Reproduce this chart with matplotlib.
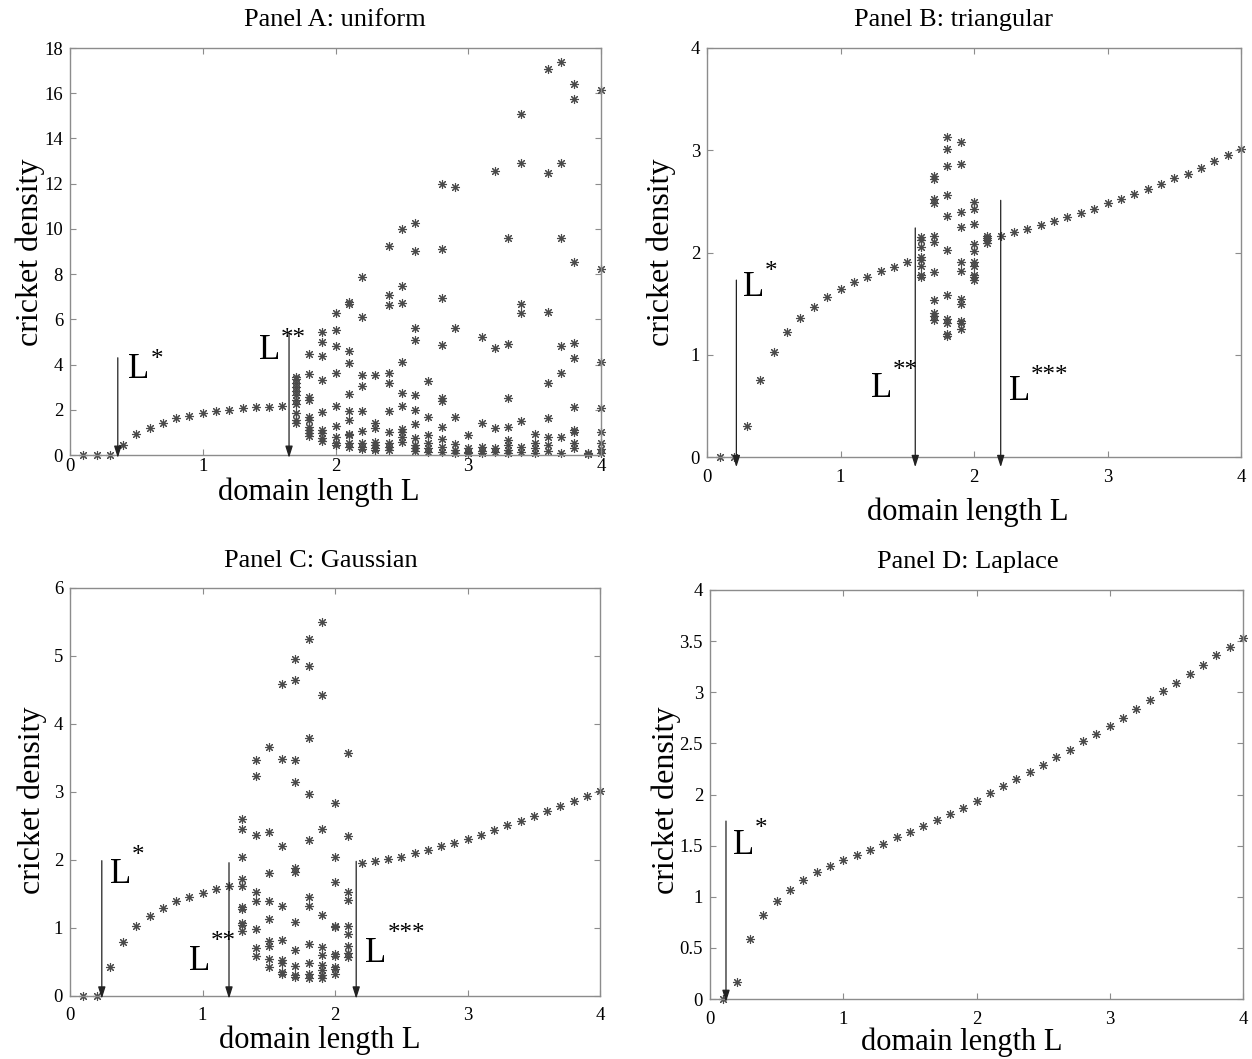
import matplotlib
matplotlib.use('Agg')
import matplotlib.pyplot as plt

plt.rcParams['font.family'] = ['Liberation Serif', 'DejaVu Serif']

W, H = 1252, 1059

# ---------------- data ----------------
# Panel A: uniform
a_branch_L = [0.1, 0.2, 0.3, 0.4, 0.5, 0.6, 0.7, 0.8, 0.9, 1.0, 1.1, 1.2, 1.3, 1.4, 1.5, 1.6]
a_branch_rho = [0, 0, 0, 0.44, 0.91, 1.21, 1.43, 1.62, 1.74, 1.84, 1.95, 1.99, 2.06, 2.11, 2.14, 2.18]
a_cols_L = [1.7, 1.8, 1.9, 2.0, 2.1, 2.2, 2.3, 2.4, 2.5, 2.6, 2.7, 2.8,
            2.9, 3.0, 3.1, 3.2, 3.3, 3.4, 3.5, 3.6, 3.7, 3.8, 3.9, 4.0]
a_cols_rho = [
    [3.45, 3.35, 3.19, 3.02, 2.85, 2.65, 2.43, 2.26, 1.84, 1.55, 1.40],
    [4.47, 3.58, 2.58, 2.43, 1.70, 1.55, 1.25, 1.11, 0.96, 0.84],
    [5.46, 4.99, 4.38, 3.32, 1.92, 1.11, 0.96, 0.74, 0.63],
    [6.30, 5.53, 4.82, 3.64, 2.17, 1.28, 0.78, 0.55, 0.44],
    [6.78, 6.68, 4.62, 4.09, 2.70, 1.96, 1.55, 0.91, 0.88, 0.55, 0.37],
    [7.86, 6.09, 3.54, 3.05, 1.96, 1.08, 0.52, 0.37, 0.25],
    [3.54, 1.40, 1.18, 0.59, 0.44, 0.29, 0.22],
    [9.26, 7.06, 6.62, 3.64, 3.17, 1.96, 1.03, 0.55, 0.37, 0.22],
    [9.99, 7.49, 6.74, 4.13, 2.73, 2.17, 1.14, 1.03, 0.81, 0.56],
    [10.25, 9.04, 5.60, 5.09, 2.65, 1.99, 1.36, 0.74, 0.44, 0.29, 0.19],
    [3.27, 1.70, 0.88, 0.52, 0.29, 0.15],
    [11.98, 9.10, 6.93, 4.87, 2.51, 2.40, 1.25, 0.69, 0.34, 0.15],
    [11.87, 5.60, 1.67, 0.49, 0.22, 0.10],
    [0.88, 0.29, 0.15, 0.07],
    [5.24, 1.40, 0.37, 0.19, 0.07],
    [12.58, 4.72, 1.18, 0.29, 0.15],
    [9.59, 4.91, 2.51, 1.25, 0.66, 0.44, 0.22, 0.10],
    [15.07, 12.90, 6.68, 6.27, 1.52, 0.37, 0.15],
    [0.93, 0.52, 0.29, 0.10],
    [17.06, 12.46, 6.34, 3.20, 1.62, 0.81, 0.44, 0.19],
    [17.40, 12.90, 9.59, 4.82, 3.61, 0.78, 0.10],
    [16.40, 15.74, 8.53, 4.97, 4.28, 2.14, 1.11, 1.03, 0.55, 0.29],
    [0.07, 0.03],
    [16.15, 8.23, 4.13, 2.06, 1.03, 0.52, 0.25, 0.10],
]
a_thresholds = [0.36, 1.65]
a_arrow_tops = [4.3, 5.4]

# Panel B: triangular
b_branch_L = [0.1, 0.2, 0.3, 0.4, 0.5, 0.6, 0.7, 0.8, 0.9, 1.0, 1.1, 1.2, 1.3, 1.4, 1.5,
              2.2, 2.3, 2.4, 2.5, 2.6, 2.7, 2.8, 2.9, 3.0, 3.1, 3.2, 3.3, 3.4, 3.5,
              3.6, 3.7, 3.8, 3.9, 4.0]
b_branch_rho = [0, 0, 0.30, 0.75, 1.03, 1.22, 1.36, 1.47, 1.56, 1.64, 1.71, 1.76, 1.82, 1.86, 1.91,
                2.16, 2.20, 2.23, 2.27, 2.31, 2.35, 2.39, 2.43, 2.48, 2.52, 2.57, 2.62, 2.67, 2.73,
                2.77, 2.83, 2.89, 2.95, 3.01]
b_cols_L = [1.6, 1.7, 1.8, 1.9, 2.0, 2.1]
b_cols_rho = [
    [2.15, 2.12, 2.05, 1.96, 1.93, 1.87, 1.78, 1.76],
    [2.75, 2.72, 2.52, 2.48, 2.16, 2.10, 1.81, 1.54, 1.41, 1.38, 1.34],
    [3.13, 3.01, 2.85, 2.56, 2.36, 2.02, 1.58, 1.35, 1.31, 1.20, 1.18],
    [3.08, 2.87, 2.40, 2.25, 1.91, 1.82, 1.55, 1.50, 1.33, 1.31, 1.25],
    [2.49, 2.43, 2.28, 2.08, 2.01, 1.91, 1.87, 1.78, 1.76, 1.73],
    [2.16, 2.14, 2.12, 2.09],
]
b_thresholds = [0.22, 1.56, 2.20]
b_arrow_tops = [1.73, 2.24, 2.51]

# Panel C: Gaussian
c_branch_L = [0.1, 0.2, 0.3, 0.4, 0.5, 0.6, 0.7, 0.8, 0.9, 1.0, 1.1, 1.2,
              2.2, 2.3, 2.4, 2.5, 2.6, 2.7, 2.8, 2.9, 3.0, 3.1, 3.2, 3.3, 3.4, 3.5,
              3.6, 3.7, 3.8, 3.9, 4.0]
c_branch_rho = [0, 0, 0.42, 0.80, 1.03, 1.18, 1.30, 1.39, 1.45, 1.52, 1.57, 1.62,
                1.95, 1.98, 2.01, 2.05, 2.10, 2.14, 2.20, 2.25, 2.31, 2.37, 2.44, 2.51, 2.58, 2.65,
                2.72, 2.79, 2.87, 2.94, 3.02]
c_cols_L = [1.3, 1.4, 1.5, 1.6, 1.7, 1.8, 1.9, 2.0, 2.1]
c_cols_rho = [
    [2.61, 2.46, 2.05, 1.72, 1.62, 1.31, 1.28, 1.08, 1.04, 0.95],
    [3.47, 3.23, 2.37, 1.53, 1.39, 0.98, 0.70, 0.59],
    [3.66, 2.41, 1.81, 1.39, 1.13, 0.81, 0.73, 0.54, 0.43],
    [4.59, 3.48, 2.20, 1.33, 0.82, 0.53, 0.49, 0.35, 0.32],
    [4.96, 4.65, 3.47, 3.15, 1.88, 1.83, 1.09, 0.67, 0.44, 0.31, 0.28],
    [5.25, 4.86, 3.80, 2.97, 2.29, 1.46, 1.32, 0.77, 0.48, 0.32, 0.27],
    [5.50, 4.42, 2.46, 1.19, 0.72, 0.61, 0.45, 0.38, 0.31, 0.27],
    [2.84, 2.04, 1.68, 1.03, 1.01, 0.62, 0.59, 0.43, 0.39, 0.32],
    [3.57, 2.35, 1.53, 1.41, 1.03, 0.91, 0.73, 0.63, 0.58],
]
c_thresholds = [0.24, 1.20, 2.16]
c_arrow_tops = [1.99, 1.96, 1.98]

# Panel D: Laplace
d_L = [0.1, 0.2, 0.3, 0.4, 0.5, 0.6, 0.7, 0.8, 0.9, 1.0, 1.1, 1.2, 1.3, 1.4, 1.5, 1.6, 1.7,
       1.8, 1.9, 2.0, 2.1, 2.2, 2.3, 2.4, 2.5, 2.6, 2.7, 2.8, 2.9, 3.0, 3.1, 3.2, 3.3, 3.4,
       3.5, 3.6, 3.7, 3.8, 3.9, 4.0]
d_rho = [0, 0.17, 0.59, 0.82, 0.96, 1.07, 1.16, 1.24, 1.30, 1.36, 1.41, 1.46, 1.52, 1.58,
         1.63, 1.69, 1.75, 1.81, 1.87, 1.94, 2.01, 2.08, 2.15, 2.22, 2.29, 2.37, 2.44, 2.52,
         2.59, 2.67, 2.75, 2.84, 2.92, 3.01, 3.09, 3.18, 3.27, 3.36, 3.44, 3.53]
d_thresholds = [0.12]
d_arrow_tops = [1.74]

x_ticks = [0, 1, 2, 3, 4]
star_labels = ['*', '**', '***']

MARK = '#4a4a4a'
SPINE = '#8c8c8c'
ASTERISK = (8, 2, 0)   # matlab style '*' : plus and cross on top of each other


def flatten(cols_L, cols_rho):
    xs, ys = [], []
    for L, col in zip(cols_L, cols_rho):
        for r in col:
            xs.append(L)
            ys.append(r)
    return xs, ys


def px_axes(left, top, right, bottom):
    return [left / W, 1 - bottom / H, (right - left) / W, (bottom - top) / H]


def setup(ax, ylim, yticks, ytlabels, xpad):
    ax.set_xlim(0, 4)
    ax.set_ylim(*ylim)
    ax.set_xticks(x_ticks)
    ax.set_yticks(yticks)
    ax.set_yticklabels(ytlabels)
    ax.tick_params(direction='in', length=4, width=0.8, color=SPINE, labelsize=13.5,
                   top=True, right=True)
    ax.tick_params(axis='x', pad=xpad)
    ax.tick_params(axis='y', pad=5)
    for s in ax.spines.values():
        s.set_color(SPINE)
        s.set_linewidth(1.0)


def marks(ax, xs, ys):
    ax.plot(xs, ys, linestyle='none', marker=ASTERISK, color=MARK, markersize=6.5,
            markeredgewidth=0.8, clip_on=False)


def arrows(ax, xs, tops, tip, labels):
    # labels: list of (L_x, L_baseline, star_baseline); stars follow right after the L
    for i, (x, top) in enumerate(zip(xs, tops)):
        ax.annotate('', xy=(x, tip), xytext=(x, top),
                    arrowprops=dict(arrowstyle='-|>,head_length=0.7,head_width=0.22',
                                    color='#222222', lw=0.9, shrinkA=0, shrinkB=0),
                    annotation_clip=False)
        lx, ly, sy = labels[i]
        ax.text(lx, ly, 'L', fontsize=25, ha='left', va='baseline')
        ax.text(lx + 0.165, sy, star_labels[i], fontsize=18, ha='left', va='baseline')


fig = plt.figure(figsize=(W / 100, H / 100), dpi=100)

# Panel A
axA = fig.add_axes(px_axes(70, 48, 601, 455))
marks(axA, a_branch_L, a_branch_rho)
marks(axA, *flatten(a_cols_L, a_cols_rho))
setup(axA, (0, 18), list(range(0, 19, 2)), [str(v) for v in range(0, 19, 2)], 2)
arrows(axA, a_thresholds, a_arrow_tops, -0.13,
       [(0.44, 3.4, 3.95), (1.42, 4.25, 4.85)])

# Panel B
axB = fig.add_axes(px_axes(707, 48, 1241, 457))
marks(axB, b_branch_L, b_branch_rho)
marks(axB, *flatten(b_cols_L, b_cols_rho))
setup(axB, (0, 4), [0, 1, 2, 3, 4], ['0', '1', '2', '3', '4'], 9)
arrows(axB, b_thresholds, b_arrow_tops, -0.10,
       [(0.27, 1.57, 1.75), (1.23, 0.59, 0.78), (2.26, 0.56, 0.73)])

# Panel C
axC = fig.add_axes(px_axes(70, 588, 600, 996))
marks(axC, c_branch_L, c_branch_rho)
marks(axC, *flatten(c_cols_L, c_cols_rho))
setup(axC, (0, 6), [0, 1, 2, 3, 4, 5, 6], ['0', '1', '2', '3', '4', '5', '6'], 8)
arrows(axC, c_thresholds, c_arrow_tops, -0.04,
       [(0.30, 1.66, 1.97), (0.90, 0.38, 0.70), (2.23, 0.50, 0.82)])

# Panel D
axD = fig.add_axes(px_axes(710, 590, 1243, 999))
marks(axD, d_L, d_rho)
setup(axD, (0, 4), [0, 0.5, 1, 1.5, 2, 2.5, 3, 3.5, 4],
      ['0', '0.5', '1', '1.5', '2', '2.5', '3', '3.5', '4'], 9)
arrows(axD, d_thresholds, d_arrow_tops, -0.03, [(0.17, 1.42, 1.60)])


# titles and axis labels placed in figure pixels
def ftext(x, y, s, size, rot=0):
    fig.text(x / W, 1 - y / H, s, fontsize=size, ha='center', va='center', rotation=rot)


ftext(335, 20, 'Panel A: uniform', 19)
ftext(953, 20, 'Panel B: triangular', 19)
ftext(321, 561, 'Panel C: Gaussian', 19)
ftext(968, 562, 'Panel D: Laplace', 19)

ftext(319, 492, 'domain length L', 22)
ftext(968, 512, 'domain length L', 22)
ftext(320, 1040, 'domain length L', 22)
ftext(962, 1042, 'domain length L', 22)

ftext(30, 252, 'cricket density', 23, 90)
ftext(661, 252, 'cricket density', 23, 90)
ftext(32, 800, 'cricket density', 23, 90)
ftext(666, 800, 'cricket density', 23, 90)

fig.savefig('out.png', dpi=100, facecolor='white')
